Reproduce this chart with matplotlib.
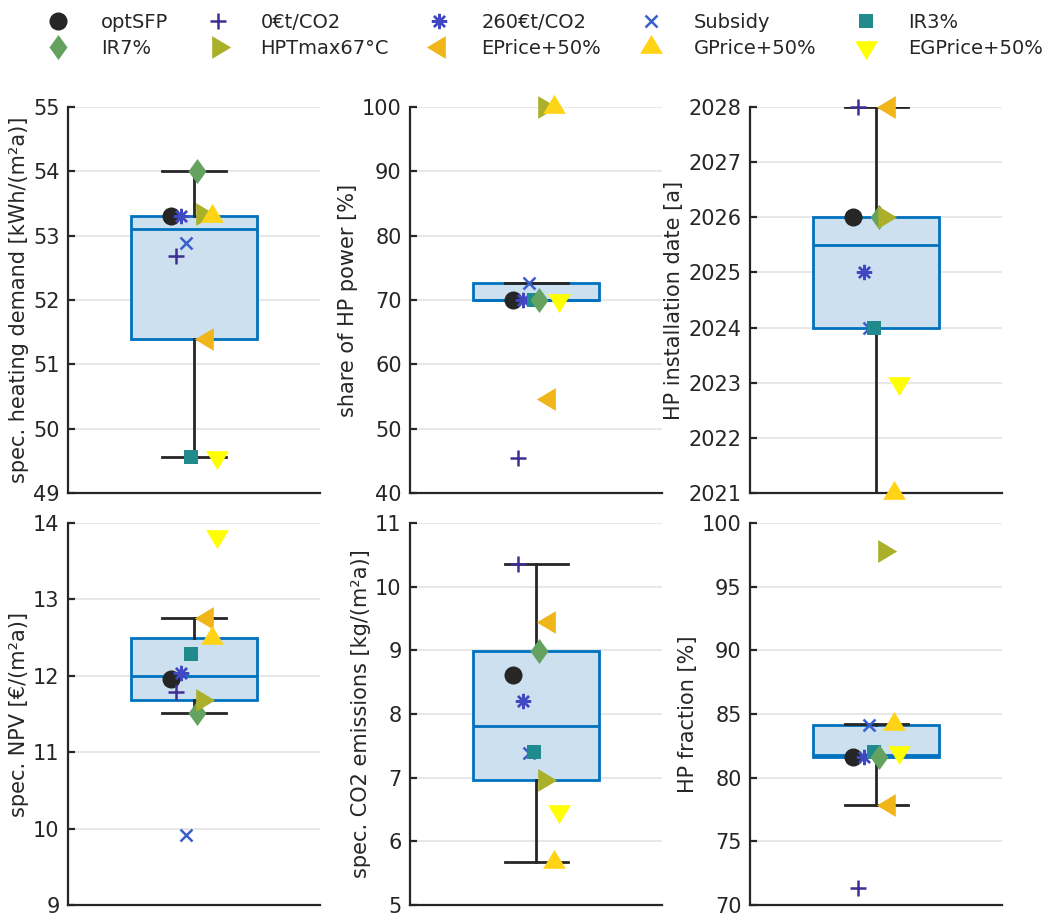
import numpy as np
import matplotlib.pyplot as plt
from matplotlib.path import Path

plt.rcParams['font.family'] = ['DejaVu Sans']
plt.rcParams['font.size'] = 14

# scenario names and colours (legend order = drawing order)
scenarios = ["optSFP", "0€t/CO2", "260€t/CO2", "Subsidy", "IR3%",
             "IR7%", "HPTmax67°C", "EPrice+50%", "GPrice+50%", "EGPrice+50%"]
colors = ["#262626", "#3e2f96", "#3f48c0", "#3a5fcd", "#208a8c",
          "#63a35f", "#aab02a", "#f0b519", "#ffd416", "#ffff00"]

# values per scenario
heating_demand = [53.31, 52.68, 53.31, 52.89, 49.56, 54.00, 53.33, 51.39, 53.31, 49.56]
hp_power_share = [70.0, 45.5, 70.0, 72.7, 70.0, 70.0, 100.0, 54.6, 100.0, 70.0]
hp_install_year = [2026, 2028, 2025, 2024, 2024, 2026, 2026, 2028, 2021, 2023]
npv = [11.96, 11.79, 12.04, 9.92, 12.29, 11.51, 11.69, 12.76, 12.49, 13.83]
co2_emissions = [8.61, 10.36, 8.20, 7.38, 7.41, 8.99, 6.97, 9.44, 5.67, 6.48]
hp_fraction = [81.64, 71.31, 81.64, 84.12, 82.00, 81.60, 97.78, 77.85, 84.20, 81.98]

panels = [
    (heating_demand, "spec. heating demand [kWh/(m²a)]", (49, 55), 1),
    (hp_power_share, "share of HP power [%]", (40, 100), 10),
    (hp_install_year, "HP installation date [a]", (2021, 2028), 1),
    (npv, "spec. NPV [€/(m²a)]", (9, 14), 1),
    (co2_emissions, "spec. CO2 emissions [kg/(m²a)]", (5, 11), 1),
    (hp_fraction, "HP fraction [%]", (70, 100), 5),
]


def tri(direction):
    # triangle centred on its centroid, like MATLAB's markers
    v = np.array([(0, 2 / 3), (-0.6, -1 / 3), (0.6, -1 / 3), (0, 2 / 3)])
    if direction == "down":
        v[:, 1] *= -1
    elif direction == "right":
        v = v[:, ::-1].copy()
    elif direction == "left":
        v = -v[:, ::-1]
    return Path(v, closed=True)


diamond = Path([(0, 0.5), (0.36, 0), (0, -0.5), (-0.36, 0), (0, 0.5)], closed=True)

marker_styles = [
    dict(marker="o", ms=13, mew=0),
    dict(marker="+", ms=11.5, mew=1.8),
    dict(marker=(8, 2, 0), ms=11, mew=1.7),
    dict(marker="x", ms=8.5, mew=1.8),
    dict(marker="s", ms=10.6, mew=0),
    dict(marker=diamond, ms=18, mew=0),
    dict(marker=tri("right"), ms=18.2, mew=0),
    dict(marker=tri("left"), ms=18.2, mew=0),
    dict(marker=tri("up"), ms=18.2, mew=0),
    dict(marker=tri("down"), ms=18.2, mew=0),
]

offsets = np.linspace(-0.09, 0.09, len(scenarios))


def box_stats(values):
    # MATLAB-style quartiles, whiskers at 1.5 IQR
    x = np.asarray(values, dtype=float)
    q1, med, q3 = np.percentile(x, [25, 50, 75], method="hazen")
    iqr = q3 - q1
    lo = x[x >= q1 - 1.5 * iqr].min()
    hi = x[x <= q3 + 1.5 * iqr].max()
    return dict(q1=q1, med=med, q3=q3, whislo=lo, whishi=hi, fliers=[])


fig = plt.figure(figsize=(10.61, 9.15), dpi=100)
lefts = [0.064, 0.3864, 0.7069]
boxes = [(0.4612, 0.4219), (0.0109, 0.4175)]

handles = []
for i, (vals, label, ylim, step) in enumerate(panels):
    row, col = divmod(i, 3)
    ax = fig.add_axes([lefts[col], boxes[row][0], 0.2377, boxes[row][1]])

    ax.bxp([box_stats(vals)], positions=[1], widths=0.5, capwidths=0.25,
           showfliers=False, patch_artist=True,
           boxprops=dict(facecolor="#cce0ef", edgecolor="#0072bd", lw=2.0),
           medianprops=dict(color="#0072bd", lw=2.0),
           whiskerprops=dict(color="#262626", lw=2.0),
           capprops=dict(color="#262626", lw=2.0))

    for k in range(len(scenarios)):
        st = marker_styles[k]
        filled = st["marker"] not in ("+", "x") and not isinstance(st["marker"], tuple)
        h, = ax.plot(1 + offsets[k], vals[k], ls="none", marker=st["marker"],
                     ms=st["ms"], mew=st["mew"], color=colors[k],
                     mfc=colors[k] if filled else "none", mec=colors[k],
                     clip_on=False, zorder=5 + k, label=scenarios[k])
        if i == 0:
            handles.append(h)

    ax.set_xlim(0.5, 1.5)
    ax.set_ylim(*ylim)
    ax.set_yticks(np.arange(ylim[0], ylim[1] + step / 2, step))
    ax.set_xticks([])
    ax.yaxis.grid(True, color="#e3e3e3", lw=1.2)
    ax.set_axisbelow(True)
    for side in ("top", "right"):
        ax.spines[side].set_visible(False)
    for side in ("left", "bottom"):
        ax.spines[side].set_color("#262626")
        ax.spines[side].set_linewidth(1.6)
    ax.tick_params(axis="y", direction="in", length=5, width=1.6,
                   colors="#262626", labelsize=15, pad=6)
    ax.set_ylabel(label, color="#262626", fontsize=15, labelpad=3)

# matplotlib fills legend columns first; reorder so rows read like the reference
order = [0, 5, 1, 6, 2, 7, 3, 8, 4, 9]
fig.legend([handles[k] for k in order], [scenarios[k] for k in order],
           ncol=5, loc="upper left",
           bbox_to_anchor=(0.02, 1.005), frameon=False, fontsize=14,
           handlelength=2, handletextpad=1.2, columnspacing=1.55,
           labelspacing=0.35, labelcolor="#262626")

fig.savefig("out.png", dpi=100)
